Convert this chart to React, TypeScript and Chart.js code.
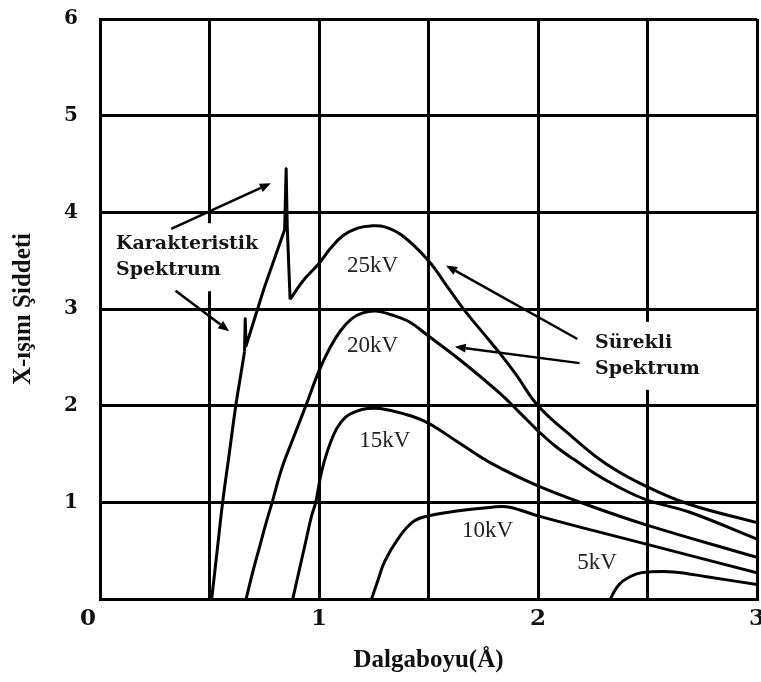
import React, { useEffect, useRef } from 'react';
import { Chart, registerables } from 'chart.js';

Chart.register(...registerables);

// ---- Data (wavelength in Å, intensity) ----
const x25 = [0.51, 0.535, 0.56, 0.59, 0.62, 0.645, 0.66, 0.663, 0.667, 0.75, 0.843, 0.85, 0.855, 0.868, 0.93, 1.0, 1.05, 1.11, 1.18, 1.24, 1.3, 1.38, 1.5, 1.58, 1.67, 1.75, 1.83, 1.9, 2.0, 2.16, 2.31, 2.49, 2.69, 3.0];
const y25 = [0, 0.5, 1.0, 1.5, 2.0, 2.35, 2.56, 2.9, 2.62, 3.22, 3.82, 4.45, 3.85, 3.1, 3.3, 3.47, 3.62, 3.76, 3.84, 3.86, 3.85, 3.76, 3.5, 3.25, 2.97, 2.75, 2.53, 2.32, 2.0, 1.67, 1.4, 1.17, 0.98, 0.79];

const x20 = [0.667, 0.7, 0.73, 0.76, 0.786, 0.83, 0.88, 0.94, 1.0, 1.05, 1.1, 1.15, 1.2, 1.26, 1.33, 1.41, 1.5, 1.64, 1.83, 1.92, 2.0, 2.08, 2.16, 2.31, 2.49, 2.69, 3.0];
const y20 = [0, 0.3, 0.55, 0.8, 1.0, 1.35, 1.65, 2.0, 2.36, 2.6, 2.78, 2.9, 2.96, 2.98, 2.94, 2.87, 2.72, 2.48, 2.12, 1.92, 1.74, 1.58, 1.45, 1.23, 1.03, 0.9, 0.62];

const x15 = [0.88, 0.91, 0.94, 0.965, 0.985, 1.01, 1.04, 1.08, 1.12, 1.17, 1.22, 1.28, 1.38, 1.49, 1.63, 1.79, 2.0, 2.23, 2.49, 3.0];
const y15 = [0, 0.3, 0.6, 0.85, 1.0, 1.3, 1.54, 1.76, 1.88, 1.94, 1.97, 1.97, 1.92, 1.83, 1.63, 1.4, 1.17, 0.97, 0.77, 0.43];

const x10 = [1.24, 1.27, 1.3, 1.36, 1.43, 1.5, 1.63, 1.79, 1.87, 2.0, 2.25, 2.49, 3.0];
const y10 = [0, 0.2, 0.39, 0.62, 0.8, 0.86, 0.91, 0.95, 0.95, 0.86, 0.71, 0.57, 0.27];

const x5 = [2.33, 2.36, 2.39, 2.45, 2.51, 2.62, 2.77, 3.0];
const y5 = [0, 0.12, 0.19, 0.26, 0.28, 0.28, 0.23, 0.15];

// ---- Tick labels ----
const xTickLabels = ['0', '1', '2', '3'];
const yTickLabels = ['', '1', '2', '3', '4', '5', '6'];

// ---- Curve labels ----
const curveLabels = ['25kV', '20kV', '15kV', '10kV', '5kV'];
const curveLabelX = [1.245, 1.245, 1.3, 1.77, 2.27];
const curveLabelY = [3.45, 2.62, 1.64, 0.7, 0.37];

// ---- Note blocks ----
const noteTexts = [['Karakteristik', 'Spektrum'], ['Sürekli', 'Spektrum']];
const noteX = [0.073, 2.26];
const noteY = [3.67, 2.65];

// ---- Arrows ----
const arrowFromX = [0.325, 0.345, 2.18, 2.19];
const arrowFromY = [3.83, 3.19, 2.69, 2.44];
const arrowToX = [0.78, 0.59, 1.58, 1.62];
const arrowToY = [4.3, 2.77, 3.45, 2.61];

const NOTE_FONT = 'bold 19px "DejaVu Serif"';
const LABEL_FONT = '23px "Liberation Serif"';
const LINE_GAP = 26;

const toPts = (xs: number[], ys: number[]) => xs.map((x, i) => ({ x, y: ys[i] }));

const annotationPlugin = {
  id: 'annotations',
  beforeDatasetsDraw(chart: any) {
    const { ctx, scales } = chart;
    const sx = scales.x, sy = scales.y;
    ctx.save();
    ctx.font = NOTE_FONT;
    ctx.fillStyle = '#ffffff';
    noteTexts.forEach((lines, i) => {
      const px = sx.getPixelForValue(noteX[i]);
      const py = sy.getPixelForValue(noteY[i]);
      const w = Math.max(...lines.map((t) => ctx.measureText(t).width));
      const top = py - 21;
      const bottom = py + LINE_GAP * (lines.length - 1) + 21;
      ctx.fillRect(px - 6, top, w + 12, bottom - top);
    });
    ctx.restore();
  },
  afterDatasetsDraw(chart: any) {
    const { ctx, scales } = chart;
    const sx = scales.x, sy = scales.y;
    ctx.save();
    ctx.font = NOTE_FONT;
    ctx.fillStyle = '#151515';
    ctx.textAlign = 'left';
    ctx.textBaseline = 'middle';
    noteTexts.forEach((lines, i) => {
      const px = sx.getPixelForValue(noteX[i]);
      const py = sy.getPixelForValue(noteY[i]);
      lines.forEach((t, j) => ctx.fillText(t, px, py + j * LINE_GAP));
    });
    ctx.font = LABEL_FONT;
    ctx.fillStyle = '#222';
    ctx.textAlign = 'center';
    curveLabels.forEach((t, i) => {
      ctx.fillText(t, sx.getPixelForValue(curveLabelX[i]), sy.getPixelForValue(curveLabelY[i]));
    });
    ctx.strokeStyle = '#000';
    ctx.fillStyle = '#000';
    ctx.lineWidth = 2.5;
    arrowFromX.forEach((_, i) => {
      const x1 = sx.getPixelForValue(arrowFromX[i]);
      const y1 = sy.getPixelForValue(arrowFromY[i]);
      const x2 = sx.getPixelForValue(arrowToX[i]);
      const y2 = sy.getPixelForValue(arrowToY[i]);
      const ang = Math.atan2(y2 - y1, x2 - x1);
      const hl = 11, hw = 4.5;
      const bx = x2 - hl * Math.cos(ang);
      const by = y2 - hl * Math.sin(ang);
      ctx.beginPath();
      ctx.moveTo(x1, y1);
      ctx.lineTo(bx, by);
      ctx.stroke();
      ctx.beginPath();
      ctx.moveTo(x2, y2);
      ctx.lineTo(bx + hw * Math.sin(ang), by - hw * Math.cos(ang));
      ctx.lineTo(bx - hw * Math.sin(ang), by + hw * Math.cos(ang));
      ctx.closePath();
      ctx.fill();
    });
    ctx.restore();
  },
};

export default function App() {
  const canvasRef = useRef<HTMLCanvasElement | null>(null);

  useEffect(() => {
    if (!canvasRef.current) return;
    const ds = (xs: number[], ys: number[], tension: number) => ({
      data: toPts(xs, ys),
      borderColor: '#000',
      borderWidth: 3,
      pointRadius: 0,
      fill: false,
      tension,
      borderJoinStyle: 'round' as const,
    });
    // 25 kV curve: smooth rise, straight characteristic peaks, smooth continuum
    const cut1 = 6, cut2 = 13;
    const datasets = [
      ds(x25.slice(0, cut1 + 1), y25.slice(0, cut1 + 1), 0.4),
      ds(x25.slice(cut1, cut2 + 1), y25.slice(cut1, cut2 + 1), 0),
      ds(x25.slice(cut2), y25.slice(cut2), 0.4),
      ds(x20, y20, 0.4),
      ds(x15, y15, 0.4),
      ds(x10, y10, 0.4),
      ds(x5, y5, 0.4),
    ];
    const chart = new Chart(canvasRef.current, {
      type: 'line',
      data: { datasets },
      options: {
        animation: false,
        responsive: false,
        devicePixelRatio: 1,
        layout: { padding: { top: 19, right: 4, left: 0, bottom: 0 } },
        plugins: { legend: { display: false }, tooltip: { enabled: false } },
        scales: {
          x: {
            type: 'linear',
            min: 0,
            max: 3,
            afterFit(s: any) {
              s.height = 83;
              s.paddingLeft = 0;
              s.paddingRight = 0;
            },
            ticks: {
              stepSize: 0.5,
              autoSkip: false,
              maxRotation: 0,
              color: '#111',
              padding: 6,
              font: { family: 'DejaVu Serif', weight: 'bold', size: 23 },
              callback: (v: any) => {
                const n = Number(v);
                if (!Number.isInteger(n)) return '';
                return n === 0 ? xTickLabels[n] + '   ' : xTickLabels[n];
              },
            },
            grid: { color: '#000', lineWidth: 3, drawTicks: false },
            border: { color: '#000', width: 3 },
            title: {
              display: true,
              text: 'Dalgaboyu(Å)',
              color: '#111',
              font: { family: 'Liberation Serif', weight: 'bold', size: 25 },
              padding: { top: 0, bottom: 6 },
            },
          },
          y: {
            type: 'linear',
            min: 0,
            max: 6,
            afterFit(s: any) {
              s.width = 100;
              s.paddingTop = 0;
              s.paddingBottom = 0;
            },
            ticks: {
              stepSize: 1,
              color: '#111',
              padding: 22,
              font: { family: 'DejaVu Serif', weight: 'bold', size: 20 },
              callback: (v: any) => yTickLabels[Number(v)] ?? '',
            },
            grid: { color: '#000', lineWidth: 3, drawTicks: false },
            border: { color: '#000', width: 3 },
            title: {
              display: true,
              text: 'X-ışını Şiddeti',
              color: '#111',
              font: { family: 'Liberation Serif', weight: 'bold', size: 25 },
              padding: { top: 9, bottom: 0 },
            },
          },
        },
      },
      plugins: [annotationPlugin],
    });
    return () => chart.destroy();
  }, []);

  return (
    <div style={{ position: 'absolute', left: 0, top: 0, width: 761, height: 682, background: '#fff' }}>
      <canvas ref={canvasRef} width={761} height={682} />
    </div>
  );
}
